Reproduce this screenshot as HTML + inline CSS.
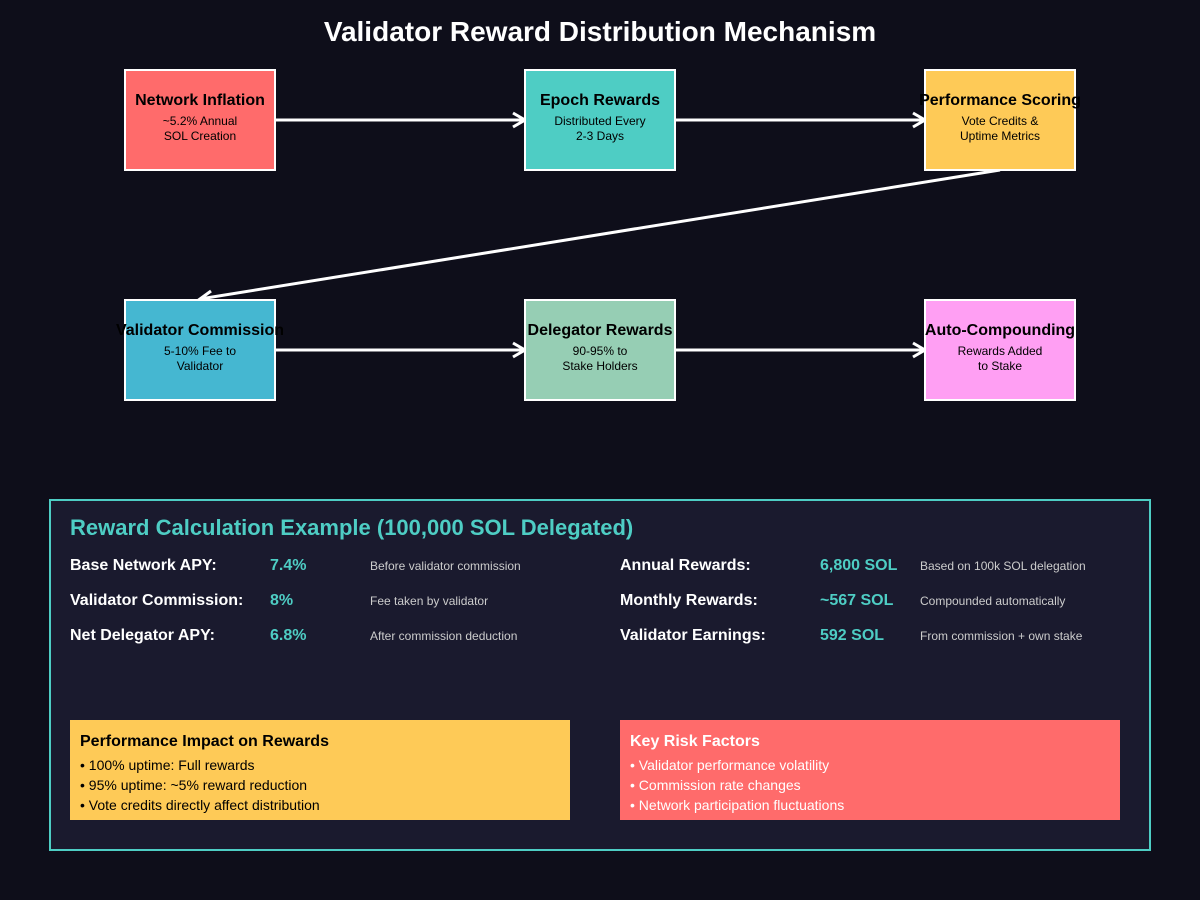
<!DOCTYPE html>
<html><head><meta charset="utf-8"><style>
html,body{margin:0;padding:0;background:#0e0e1a;}
svg{display:block;font-family:"Liberation Sans",sans-serif;}
</style></head><body>
<svg width="1200" height="900" viewBox="0 0 1200 900" xmlns="http://www.w3.org/2000/svg">
<rect width="1200" height="900" fill="#0e0e1a"/>
<text x="600" y="41" text-anchor="middle" font-size="28" font-weight="bold" fill="#fff">Validator Reward Distribution Mechanism</text>
<g stroke="#fff" stroke-width="3" fill="none">
<line x1="275" y1="120" x2="525" y2="120"/><polyline points="513,113 525,120 513,127"/>
<line x1="675" y1="120" x2="925" y2="120"/><polyline points="913,113 925,120 913,127"/>
<line x1="275" y1="350" x2="525" y2="350"/><polyline points="513,343 525,350 513,357"/>
<line x1="675" y1="350" x2="925" y2="350"/><polyline points="913,343 925,350 913,357"/>
<line x1="1000" y1="170" x2="200" y2="299"/><polyline points="211,291 200,299 213,305"/>
</g>
<g stroke="#fff" stroke-width="2">
<rect x="125" y="70" width="150" height="100" fill="#ff6b6b"/>
<rect x="525" y="70" width="150" height="100" fill="#4ecdc4"/>
<rect x="925" y="70" width="150" height="100" fill="#feca57"/>
<rect x="125" y="300" width="150" height="100" fill="#45b7d1"/>
<rect x="525" y="300" width="150" height="100" fill="#96ceb4"/>
<rect x="925" y="300" width="150" height="100" fill="#ff9ff3"/>
</g>
<g text-anchor="middle" fill="#000">
<text x="200" y="105" font-size="16" font-weight="bold">Network Inflation</text>
<text x="200" y="125" font-size="12">~5.2% Annual</text><text x="200" y="140" font-size="12">SOL Creation</text>
<text x="600" y="105" font-size="16" font-weight="bold">Epoch Rewards</text>
<text x="600" y="125" font-size="12">Distributed Every</text><text x="600" y="140" font-size="12">2-3 Days</text>
<text x="1000" y="105" font-size="16" font-weight="bold">Performance Scoring</text>
<text x="1000" y="125" font-size="12">Vote Credits &amp;</text><text x="1000" y="140" font-size="12">Uptime Metrics</text>
<text x="200" y="335" font-size="16" font-weight="bold">Validator Commission</text>
<text x="200" y="355" font-size="12">5-10% Fee to</text><text x="200" y="370" font-size="12">Validator</text>
<text x="600" y="335" font-size="16" font-weight="bold">Delegator Rewards</text>
<text x="600" y="355" font-size="12">90-95% to</text><text x="600" y="370" font-size="12">Stake Holders</text>
<text x="1000" y="335" font-size="16" font-weight="bold">Auto-Compounding</text>
<text x="1000" y="355" font-size="12">Rewards Added</text><text x="1000" y="370" font-size="12">to Stake</text>
</g>
<rect x="50" y="500" width="1100" height="350" fill="#1a1a2e" stroke="#4ecdc4" stroke-width="2"/>
<text x="70" y="535" font-size="22" font-weight="bold" fill="#4ecdc4">Reward Calculation Example (100,000 SOL Delegated)</text>
<g font-size="16" font-weight="bold" fill="#fff">
<text x="70" y="570">Base Network APY:</text><text x="70" y="605">Validator Commission:</text><text x="70" y="640">Net Delegator APY:</text>
<text x="620" y="570">Annual Rewards:</text><text x="620" y="605">Monthly Rewards:</text><text x="620" y="640">Validator Earnings:</text>
</g>
<g font-size="16" font-weight="bold" fill="#4ecdc4">
<text x="270" y="570">7.4%</text><text x="270" y="605">8%</text><text x="270" y="640">6.8%</text>
<text x="820" y="570">6,800 SOL</text><text x="820" y="605">~567 SOL</text><text x="820" y="640">592 SOL</text>
</g>
<g font-size="12" fill="#cccccc">
<text x="370" y="570">Before validator commission</text><text x="370" y="605">Fee taken by validator</text><text x="370" y="640">After commission deduction</text>
<text x="920" y="570">Based on 100k SOL delegation</text><text x="920" y="605">Compounded automatically</text><text x="920" y="640">From commission + own stake</text>
</g>
<rect x="70" y="720" width="500" height="100" fill="#feca57"/>
<text x="80" y="746" font-size="16" font-weight="bold" fill="#000">Performance Impact on Rewards</text>
<g font-size="14" fill="#000"><text x="80" y="770">• 100% uptime: Full rewards</text><text x="80" y="790">• 95% uptime: ~5% reward reduction</text><text x="80" y="810">• Vote credits directly affect distribution</text></g>
<rect x="620" y="720" width="500" height="100" fill="#ff6b6b"/>
<text x="630" y="746" font-size="16" font-weight="bold" fill="#fff">Key Risk Factors</text>
<g font-size="14" fill="#fff"><text x="630" y="770">• Validator performance volatility</text><text x="630" y="790">• Commission rate changes</text><text x="630" y="810">• Network participation fluctuations</text></g>
</svg>
</body></html>
